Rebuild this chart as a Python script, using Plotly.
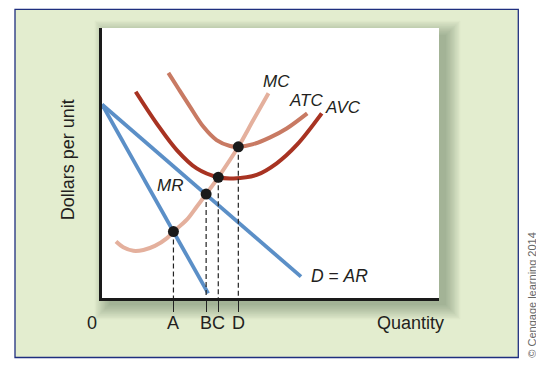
import plotly.graph_objects as go

# ---- data (quantity 0-100, dollars 0-100) ----
demand_q = [0, 59.05]
demand_p = [71.7, 7.9]
mr_q = [0, 31.5]
mr_p = [71.7, 1.7]

mc_q = [4.15, 6.3, 9.3, 12.3, 15.7, 19.2, 21.2, 25.1, 28.1, 30.9, 34.5, 40.45, 44.9, 49.4]
mc_p = [20.9, 18.8, 17.5, 17.8, 19.3, 22.1, 24.6, 28.9, 33.8, 38.5, 44.7, 56.0, 65.9, 75.8]

atc_q = [19.7, 22.6, 26.1, 30.1, 34.0, 38.0, 40.45, 44.9, 49.9, 54.8, 60.9]
atc_p = [83.4, 77.7, 70.9, 63.4, 58.5, 56.3, 56.0, 57.0, 59.5, 62.8, 68.4]

avc_q = [10.0, 16.2, 22.2, 28.1, 34.5, 39.0, 45.9, 51.85, 57.8, 65.2]
avc_p = [76.4, 64.7, 54.8, 48.0, 44.7, 44.3, 45.6, 49.9, 56.7, 68.4]

point_labels = ["A", "B", "C", "D"]
point_q = [21.2, 30.9, 34.5, 40.45]
point_p = [24.6, 38.5, 44.7, 56.0]

# ---- geometry helpers (reference pixel -> paper) ----
OFF = 8  # default page body margin
FIG_W, FIG_H = 544 - OFF, 370 - OFF
L, T, R, B = 102, 28, 439, 298
W, H = R - L, B - T


def px(x):
    return (x - L) / W


def py(y):
    return (B - y) / H


FONT = "Arial, Liberation Sans, sans-serif"
TXT = "#231f20"

fig = go.Figure()

blue = "#5b8fc7"
fig.add_trace(go.Scatter(x=demand_q, y=demand_p, mode="lines",
                         line=dict(color=blue, width=3.8), hoverinfo="skip"))
fig.add_trace(go.Scatter(x=mr_q, y=mr_p, mode="lines",
                         line=dict(color=blue, width=3.8), hoverinfo="skip"))
fig.add_trace(go.Scatter(x=mc_q, y=mc_p, mode="lines",
                         line=dict(color="#e4b09d", width=4, shape="spline", smoothing=1.0),
                         hoverinfo="skip"))
fig.add_trace(go.Scatter(x=atc_q, y=atc_p, mode="lines",
                         line=dict(color="#c87a63", width=4, shape="spline", smoothing=1.0),
                         hoverinfo="skip"))
fig.add_trace(go.Scatter(x=avc_q, y=avc_p, mode="lines",
                         line=dict(color="#a83322", width=4, shape="spline", smoothing=1.0),
                         hoverinfo="skip"))

for q, p in zip(point_q, point_p):
    fig.add_trace(go.Scatter(x=[q, q], y=[p, 0], mode="lines",
                             line=dict(color="#222222", width=1.2, dash="5px,3px"),
                             hoverinfo="skip"))

fig.add_trace(go.Scatter(x=point_q, y=point_p, mode="markers",
                         marker=dict(color="#1a1a1a", size=11), hoverinfo="skip"))

shapes = []
# green panel
shapes.append(dict(type="rect", xref="paper", yref="paper",
                   x0=px(15), x1=px(518.3), y0=py(357.5), y1=py(9.3),
                   fillcolor="#e3edcf", line=dict(color="#1f2f7f", width=1.3),
                   layer="below"))
# soft shadow
n = 12
for i in range(n):
    s = i * 1.3
    shapes.append(dict(type="rect", xref="paper", yref="paper",
                       x0=px(L + 7 - s), x1=px(R + 7 + s),
                       y0=py(B + 7 + s), y1=py(T + 7 - s),
                       fillcolor="rgba(60,72,50,0.035)", line=dict(width=0),
                       layer="below"))
# white plot area
shapes.append(dict(type="rect", xref="paper", yref="paper",
                   x0=0, x1=1, y0=0, y1=1, fillcolor="white",
                   line=dict(width=0), layer="below"))

annotations = []


def ann(text, x, y, size=18, angle=0, color=TXT, xref="paper", xanchor="center"):
    annotations.append(dict(text=text, x=x, y=y, xref=xref, yref="paper",
                            showarrow=False, textangle=angle,
                            xanchor=xanchor, yanchor="middle",
                            font=dict(family=FONT, size=size, color=color)))


ann("0", px(92), py(323))
for lab, q in zip(point_labels, point_q):
    ann(lab, q, py(323), xref="x")
ann("Quantity", px(410), py(323))
ann("Dollars per unit", px(68.3), py(160), angle=-90)
ann("© Cengage learning 2014", px(531.7), py(295), size=11, angle=-90, color="#666666")

ann("<i>MC</i>", px(276), py(81.7), size=17)
ann("<i>ATC</i>", px(305.5), py(100), size=17)
ann("<i>AVC</i>", px(343), py(107.5), size=17)
ann("<i>MR</i>", px(170), py(185.5), size=17)
ann("<i>D</i> = <i>AR</i>", px(309), py(276.3), size=17.5, xanchor="left")

fig.update_layout(
    width=FIG_W, height=FIG_H,
    margin=dict(l=L - OFF, r=544 - R, t=T - OFF, b=370 - B, pad=0),
    paper_bgcolor="white",
    plot_bgcolor="rgba(0,0,0,0)",
    showlegend=False,
    shapes=shapes,
    annotations=annotations,
    xaxis=dict(range=[0, 100], showgrid=False, zeroline=False,
               showline=True, linecolor="#1a1a1a", linewidth=2.5,
               tickmode="array", tickvals=point_q, ticktext=["", "", "", ""],
               ticks="outside", ticklen=11, tickwidth=1.2, tickcolor="#222222",
               showticklabels=False, fixedrange=True),
    yaxis=dict(range=[0, 100], showgrid=False, zeroline=False,
               showline=True, linecolor="#1a1a1a", linewidth=2.5,
               showticklabels=False, ticks="", fixedrange=True),
)

fig.write_html("out.html")
